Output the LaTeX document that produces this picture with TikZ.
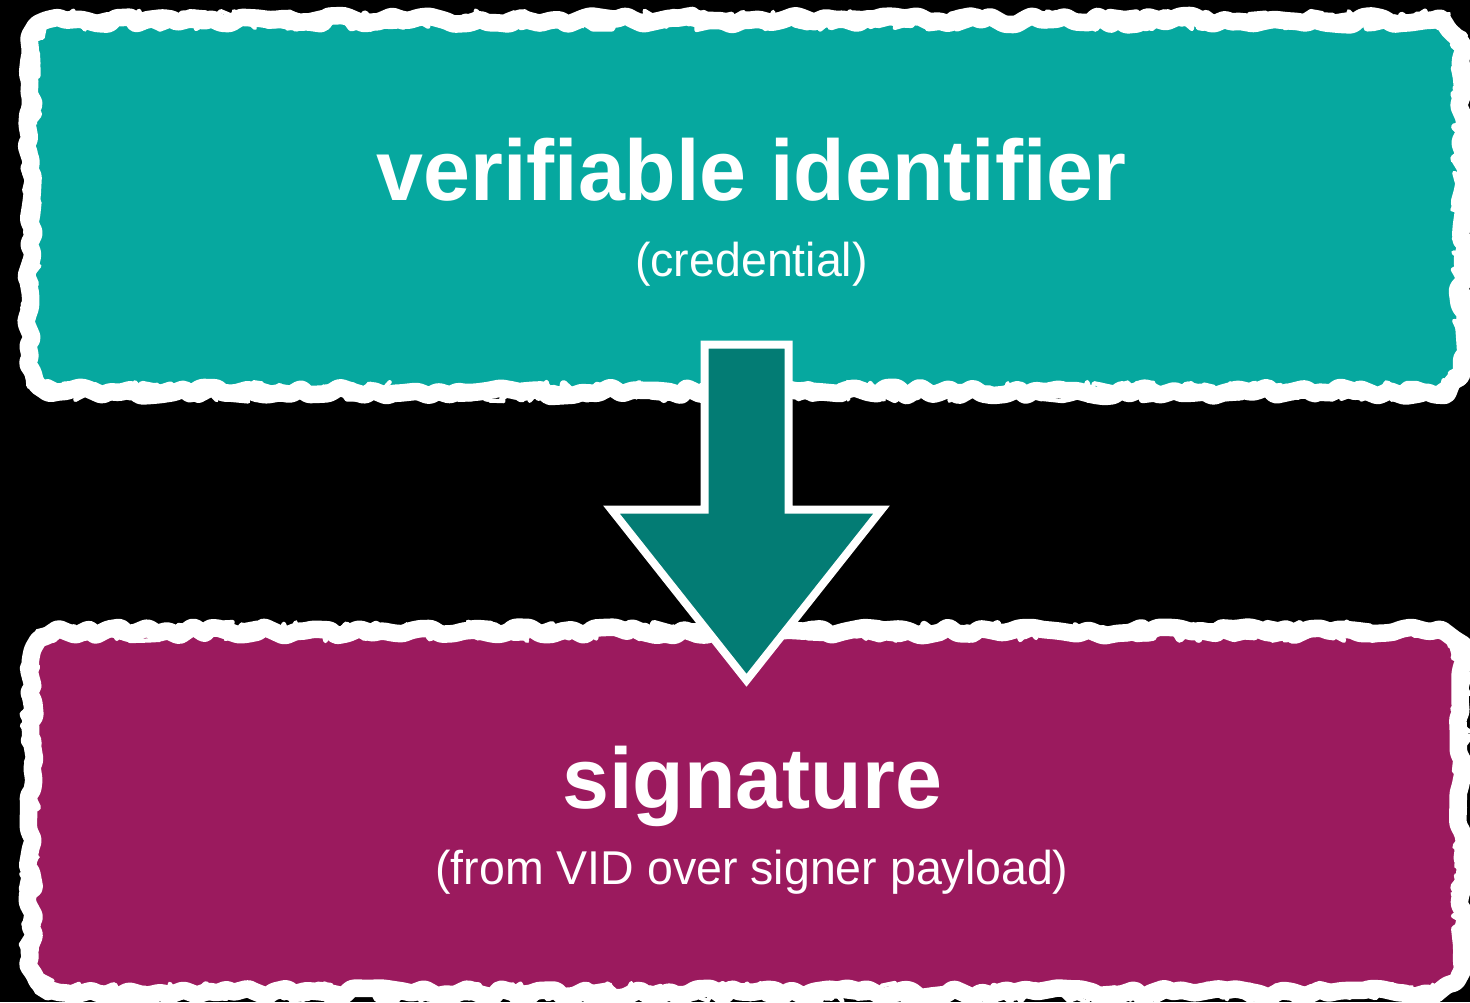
\documentclass[tikz,border=0pt]{standalone}
\usepackage{fontspec}
\setmainfont{Liberation Sans}[FakeStretch=0.98]
\usetikzlibrary{calc,decorations.pathmorphing}

\definecolor{vidteal}{HTML}{06A89F}
\definecolor{sigplum}{HTML}{9B1A5E}
\definecolor{arrowteal}{HTML}{037C74}

% rough white frame round a panel node
\newcommand{\roughframe}[2]{%
  \draw[#2] (#1.north) -- ($(#1.north east)+(-0.32,0)$)
    arc[start angle=90,end angle=0,radius=0.32]
    -- ($(#1.south east)+(0,0.32)$) arc[start angle=0,end angle=-90,radius=0.32]
    -- ($(#1.south west)+(0.32,0)$) arc[start angle=270,end angle=180,radius=0.32]
    -- ($(#1.north west)+(0,-0.32)$) arc[start angle=180,end angle=90,radius=0.32] -- cycle;}

\tikzset{
  panel/.style={rounded corners=0.32cm, minimum width=14.3cm, inner sep=0pt},
  roughA/.style={white, line width=5pt, line join=round, line cap=round, decorate,
    decoration={random steps, segment length=3pt, amplitude=1.4pt}, rounded corners=0.8pt},
  roughB/.style={white, line width=2.2pt, line join=round, line cap=round, decorate,
    decoration={random steps, segment length=2.5pt, amplitude=2.2pt}},
  roughC/.style={white, line width=1.2pt, line join=round, line cap=round, decorate,
    decoration={random steps, segment length=2pt, amplitude=2.8pt}},
  headline/.style={white, anchor=base, inner sep=0pt, font=\fontsize{24.5}{29}\selectfont\bfseries},
  subline/.style={white, anchor=base, inner sep=0pt, font=\fontsize{13.5}{16}\selectfont},
}

\begin{document}
\begin{tikzpicture}
\pgfmathsetseed{7}
\useasboundingbox (0,0) rectangle (14.7,10.02);
\fill[black] (0,0) rectangle (14.7,10.02);

\node[panel, fill=vidteal, minimum height=3.7cm] (vid) at (7.46,7.96) {};
\node[panel, fill=sigplum, minimum height=3.6cm] (sig) at (7.46,1.90) {};

\roughframe{vid}{roughA}
\roughframe{vid}{roughB}
\roughframe{vid}{roughC}
\roughframe{sig}{roughA}
\roughframe{sig}{roughB}
\roughframe{sig}{roughC}

% block arrow from the identifier down to the signature
\draw[white, line width=0.08cm, fill=arrowteal, miter limit=10]
  ($(vid.south)+(-0.415,0.47)$) -- ($(vid.south)+(0.425,0.47)$)
  -- ($(vid.south)+(0.425,-1.18)$) -- ($(vid.south)+(1.355,-1.18)$)
  -- ($(sig.north)+(0.005,-0.49)$)
  -- ($(vid.south)+(-1.345,-1.18)$) -- ($(vid.south)+(-0.415,-1.18)$) -- cycle;

\node[headline] (vidtitle) at (7.515,8.01) {verifiable identifier};
\node[subline] (vidsub) at (7.515,7.25) {(credential)};
\node[headline] (sigtitle) at (7.52,1.93) {signature};
\node[subline] (sigsub) at (7.52,1.17) {(from VID over signer payload)};
\end{tikzpicture}
\end{document}
